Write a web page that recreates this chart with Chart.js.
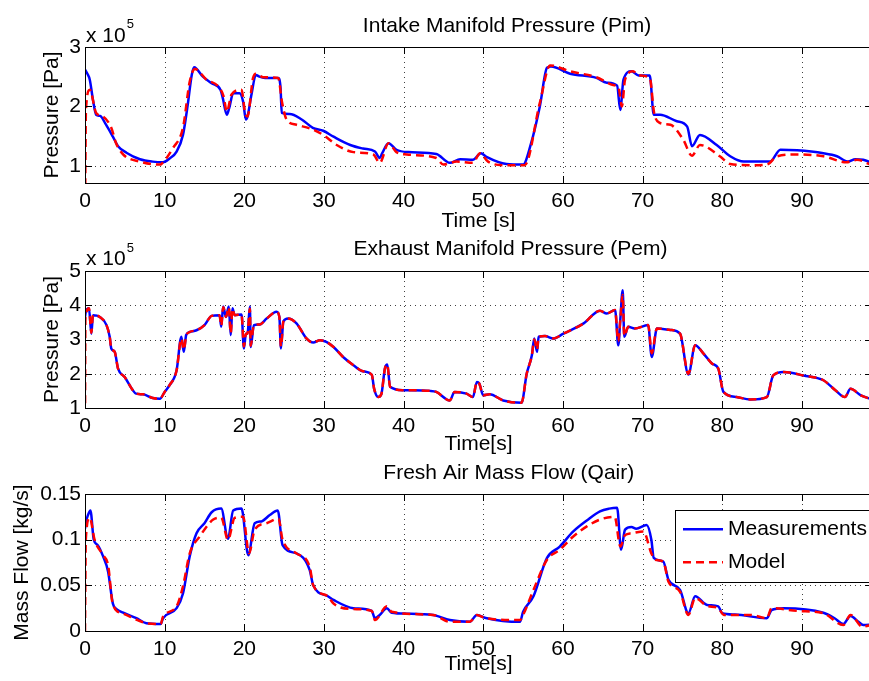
<!DOCTYPE html>
<html>
<head>
<meta charset="utf-8">
<title>Engine model validation</title>
<script src="https://cdn.jsdelivr.net/npm/chart.js@4.4.1/dist/chart.umd.min.js"></script>
<style>
    html, body { margin: 0; padding: 0; background: #fff; width: 869px; height: 681px; overflow: hidden; }
    canvas { position: absolute; left: 0; }
</style>
</head>
<body>
<canvas id="pimChart" width="880" height="234" style="top:0px"></canvas>
<canvas id="pemChart" width="880" height="223" style="top:234px"></canvas>
<canvas id="qairChart" width="880" height="224" style="top:457px"></canvas>
<script>
// Data: [time s, value]
// Intake manifold pressure, x 10^5 Pa
const pimMeasured = [
    [0, 2.62], [0.3, 2.55], [0.6, 2.45], [1.0, 2.11], [1.4, 1.86], [1.9, 1.84], [2.6, 1.70], [3.5, 1.49],
    [4.15, 1.33], [5.2, 1.22], [6.9, 1.11], [8.5, 1.07], [9.8, 1.06], [10.6, 1.12], [11.5, 1.24], [12.3, 1.52],
    [12.9, 2.03], [13.4, 2.53], [13.7, 2.66], [14.8, 2.50], [15.9, 2.39], [17.0, 2.28], [17.3, 2.14], [17.8, 1.86],
    [18.1, 1.97], [18.6, 2.22], [19.4, 2.22], [19.85, 2.08], [20.2, 1.78], [20.4, 1.83], [20.9, 2.20], [21.45, 2.53],
    [21.9, 2.50], [22.6, 2.48], [24.25, 2.48], [24.55, 2.31], [24.7, 1.89], [25.7, 1.87], [27.2, 1.78], [28.6, 1.64],
    [29.9, 1.59], [31.2, 1.49], [33.3, 1.35], [34.9, 1.29], [36.4, 1.24], [37.0, 1.13], [37.3, 1.21], [38.1, 1.38],
    [39.1, 1.27], [40.6, 1.23], [44.1, 1.20], [45.8, 1.05], [47.1, 1.11], [48.7, 1.10], [49.7, 1.21], [50.4, 1.15],
    [52.9, 1.03], [55.0, 1.02], [55.9, 1.33], [57.1, 2.0], [58.0, 2.65], [58.5, 2.67], [60.9, 2.55], [64.2, 2.48],
    [65.5, 2.40], [66.8, 2.35], [67.2, 1.94], [67.6, 2.45], [68.6, 2.59], [69.5, 2.52], [70.9, 2.52], [71.4, 1.86],
    [72.2, 1.86], [74.3, 1.75], [75.6, 1.66], [76.2, 1.33], [77.2, 1.52], [79.3, 1.35], [81.0, 1.16], [82.7, 1.07],
    [86.0, 1.07], [87.3, 1.27], [89.4, 1.26], [92.7, 1.21], [94.4, 1.16], [95.8, 1.07], [96.7, 1.11], [97.7, 1.10],
    [98.8, 1.05]
];
const pimModel = [
    [0, 0], [0.12, 1.95], [0.6, 2.28], [1.4, 1.89], [2.26, 1.83], [3.3, 1.64], [3.9, 1.38], [4.8, 1.19],
    [6.9, 1.07], [9.4, 1.02], [9.6, 1.03], [11.05, 1.30], [12.3, 1.64], [13.15, 2.42], [13.8, 2.63], [15.25, 2.45],
    [16.7, 2.34], [17.4, 2.17], [17.8, 1.91], [18.4, 2.20], [19.65, 2.28], [20.1, 1.89], [20.4, 1.83], [21.1, 2.48],
    [21.5, 2.55], [22.4, 2.49], [24.25, 2.48], [24.75, 2.06], [25.3, 1.78], [26.55, 1.69], [28.6, 1.61], [29.9, 1.52],
    [31.6, 1.35], [33.7, 1.23], [36.2, 1.19], [37.0, 1.05], [38.1, 1.38], [39.1, 1.23], [40.4, 1.19], [44.1, 1.13],
    [45.0, 1.02], [46.65, 1.07], [48.7, 1.05], [49.6, 1.21], [50.6, 1.07], [52.5, 1.01], [55.2, 1.01], [57.1, 2.06],
    [58.4, 2.69], [60.9, 2.59], [64.2, 2.49], [66.3, 2.36], [67.0, 2.31], [67.4, 2.0], [67.8, 2.45], [68.8, 2.59],
    [69.5, 2.52], [70.9, 2.48], [71.45, 1.89], [72.2, 1.72], [73.5, 1.69], [75.1, 1.44], [76.2, 1.17], [77.2, 1.35],
    [79.7, 1.16], [81.0, 1.03], [83.5, 1.01], [85.6, 1.02], [86.9, 1.16], [89.4, 1.19], [92.7, 1.16], [95.6, 1.06],
    [96.9, 1.10], [98.8, 1.01]
];

// Exhaust manifold pressure, x 10^5 Pa
const pemMeasured = [
    [0, 3.66], [0.1, 3.81], [0.5, 3.91], [0.8, 3.17], [1.0, 3.71], [1.85, 3.66], [2.7, 3.42], [3.1, 3.08],
    [3.3, 2.74], [3.73, 2.64], [4.15, 2.15], [5.0, 1.90], [6.0, 1.52], [6.4, 1.42], [7.3, 1.40], [8.5, 1.29],
    [9.4, 1.27], [10.0, 1.47], [10.6, 1.66], [11.5, 2.10], [12.1, 3.08], [12.4, 2.64], [12.7, 3.13], [13.15, 3.22],
    [14.0, 3.27], [15.0, 3.42], [15.9, 3.69], [16.9, 3.71], [17.1, 3.37], [17.35, 3.96], [17.7, 3.66], [18.05, 3.96],
    [18.3, 3.13], [18.5, 3.91], [18.8, 3.71], [19.65, 3.73], [19.95, 2.74], [20.2, 3.17], [20.4, 3.17], [20.7, 3.96],
    [20.8, 2.78], [21.2, 3.42], [21.95, 3.44], [22.8, 3.61], [24.05, 3.81], [24.4, 3.66], [24.6, 2.74], [24.9, 3.52],
    [25.5, 3.61], [26.55, 3.47], [27.8, 3.03], [28.65, 2.91], [29.5, 2.98], [30.3, 2.93], [31.2, 2.78], [32.4, 2.49],
    [33.7, 2.25], [34.9, 2.07], [36.0, 1.97], [36.3, 1.56], [36.8, 1.32], [37.2, 1.40], [37.65, 2.15], [37.95, 2.27],
    [38.3, 1.62], [39.95, 1.52], [43.3, 1.50], [44.1, 1.47], [45.8, 1.22], [46.4, 1.47], [47.9, 1.42], [48.7, 1.32],
    [49.2, 1.76], [49.5, 1.71], [50.0, 1.37], [50.8, 1.40], [52.5, 1.22], [54.8, 1.15], [55.45, 2.00], [56.1, 2.54],
    [56.4, 3.03], [56.75, 2.64], [56.95, 3.08], [57.75, 3.10], [58.8, 3.03], [60.05, 3.17], [62.6, 3.47], [64.65, 3.84],
    [65.5, 3.76], [66.55, 3.86], [66.95, 2.83], [67.2, 3.57], [67.5, 4.44], [67.7, 3.08], [68.2, 3.37], [69.0, 3.32],
    [70.7, 3.42], [71.15, 2.49], [71.8, 3.32], [73.5, 3.28], [74.7, 3.17], [75.75, 1.98], [76.6, 2.83], [77.65, 2.59],
    [78.7, 2.30], [79.5, 2.15], [80.15, 1.47], [81.8, 1.32], [83.5, 1.25], [85.6, 1.32], [86.4, 1.95], [87.7, 2.05],
    [90.2, 1.95], [92.7, 1.81], [94.2, 1.52], [95.4, 1.32], [96.1, 1.56], [97.4, 1.37], [98.8, 1.25]
];
const pemModel = [
    [0, 0], [0.05, 3.60], [0.5, 3.91], [0.8, 3.20], [1.0, 3.71], [1.85, 3.66], [2.7, 3.42], [3.1, 3.08],
    [3.3, 2.74], [3.73, 2.64], [4.15, 2.15], [5.0, 1.90], [6.0, 1.52], [6.4, 1.42], [7.3, 1.40], [8.5, 1.29],
    [9.4, 1.27], [10.0, 1.47], [10.6, 1.66], [11.5, 2.10], [12.1, 3.03], [12.4, 2.70], [12.7, 3.10], [13.15, 3.22],
    [14.0, 3.27], [15.0, 3.42], [15.9, 3.69], [16.9, 3.71], [17.1, 3.40], [17.35, 3.94], [17.7, 3.66], [18.05, 3.94],
    [18.3, 3.18], [18.5, 3.89], [18.8, 3.71], [19.65, 3.73], [19.95, 2.80], [20.2, 3.17], [20.4, 3.17], [20.7, 3.90],
    [20.8, 2.82], [21.2, 3.42], [21.95, 3.44], [22.8, 3.61], [24.05, 3.81], [24.4, 3.66], [24.6, 2.80], [24.9, 3.52],
    [25.5, 3.61], [26.55, 3.47], [27.8, 3.03], [28.65, 2.91], [29.5, 2.98], [30.3, 2.93], [31.2, 2.78], [32.4, 2.49],
    [33.7, 2.25], [34.9, 2.07], [36.0, 1.97], [36.3, 1.56], [36.8, 1.32], [37.2, 1.40], [37.65, 2.15], [37.95, 2.27],
    [38.3, 1.62], [39.95, 1.52], [43.3, 1.50], [44.1, 1.47], [45.8, 1.22], [46.4, 1.47], [47.9, 1.42], [48.7, 1.32],
    [49.2, 1.76], [49.5, 1.71], [50.0, 1.37], [50.8, 1.40], [52.5, 1.22], [54.8, 1.15], [55.45, 2.00], [56.1, 2.54],
    [56.4, 3.00], [56.75, 2.70], [56.95, 3.08], [57.75, 3.10], [58.8, 3.03], [60.05, 3.17], [62.6, 3.47], [64.65, 3.84],
    [65.5, 3.76], [66.55, 3.86], [66.95, 2.95], [67.2, 3.57], [67.5, 4.30], [67.7, 3.10], [68.2, 3.37], [69.0, 3.32],
    [70.7, 3.42], [71.15, 2.60], [71.8, 3.32], [73.5, 3.28], [74.7, 3.17], [75.75, 2.00], [76.6, 2.83], [77.65, 2.59],
    [78.7, 2.30], [79.5, 2.15], [80.15, 1.47], [81.8, 1.32], [83.5, 1.25], [85.6, 1.32], [86.4, 1.95], [87.7, 2.05],
    [90.2, 1.95], [92.7, 1.81], [94.2, 1.52], [95.4, 1.32], [96.1, 1.56], [97.4, 1.37], [98.8, 1.25]
];

// Fresh air mass flow, kg/s
const qairMeasured = [
    [0, 0.112], [0.09, 0.118], [0.38, 0.127], [0.68, 0.132], [1.1, 0.100], [1.6, 0.094], [2.26, 0.082], [2.9, 0.065],
    [3.5, 0.030], [3.95, 0.024], [4.8, 0.020], [6.45, 0.014], [7.7, 0.0085], [9.5, 0.0077], [9.8, 0.014], [11.5, 0.025],
    [12.3, 0.041], [13.15, 0.082], [14.0, 0.107], [15.0, 0.118], [15.9, 0.130], [17.1, 0.134], [17.95, 0.101], [18.6, 0.132],
    [19.65, 0.134], [20.5, 0.083], [21.3, 0.118], [22.15, 0.120], [23.2, 0.127], [24.2, 0.132], [24.8, 0.094], [26.55, 0.085],
    [28.2, 0.067], [28.65, 0.050], [30.5, 0.038], [31.2, 0.034], [33.7, 0.025], [36.0, 0.022], [36.4, 0.014], [37.0, 0.0176],
    [37.9, 0.025], [38.5, 0.020], [40.4, 0.019], [43.7, 0.0176], [45.8, 0.012], [48.3, 0.010], [49.2, 0.0176], [50.3, 0.0143],
    [54.6, 0.010], [55.0, 0.021], [56.3, 0.038], [58.0, 0.080], [59.6, 0.0925], [61.3, 0.109], [63.0, 0.121], [64.65, 0.131],
    [65.8, 0.134], [66.8, 0.135], [67.3, 0.089], [67.8, 0.111], [68.6, 0.114], [69.2, 0.112], [70.5, 0.116], [71.1, 0.100],
    [71.4, 0.080], [72.6, 0.076], [73.25, 0.056], [74.7, 0.045], [75.75, 0.0194], [76.6, 0.038], [78.1, 0.0285], [79.5, 0.027],
    [80.0, 0.0194], [81.6, 0.018], [85.6, 0.014], [86.2, 0.023], [87.7, 0.025], [92.7, 0.020], [94.1, 0.014], [95.2, 0.0077],
    [96.1, 0.0165], [97.1, 0.010], [97.7, 0.0066], [98.8, 0.007]
];
const qairModel = [
    [0, 0], [0.1, 0.100], [0.6, 0.124], [1.2, 0.100], [2.26, 0.083], [2.9, 0.072], [3.5, 0.029], [4.8, 0.019],
    [6.6, 0.012], [7.7, 0.0085], [9.5, 0.0077], [9.8, 0.0157], [11.5, 0.027], [12.3, 0.049], [13.15, 0.085], [14.4, 0.1035],
    [16.1, 0.122], [17.1, 0.124], [17.95, 0.100], [18.8, 0.124], [19.85, 0.125], [20.6, 0.085], [21.3, 0.111], [22.8, 0.118],
    [24.3, 0.123], [24.8, 0.100], [26.55, 0.085], [28.2, 0.0706], [28.65, 0.050], [30.5, 0.038], [31.2, 0.030], [33.7, 0.024],
    [36.0, 0.022], [36.4, 0.012], [37.9, 0.027], [38.5, 0.021], [43.7, 0.0176], [45.8, 0.010], [48.3, 0.010], [49.2, 0.0176],
    [50.3, 0.014], [54.6, 0.012], [55.0, 0.0176], [56.3, 0.045], [58.0, 0.078], [59.6, 0.089], [61.3, 0.1035], [63.0, 0.1145],
    [64.65, 0.122], [66.5, 0.125], [67.2, 0.0925], [67.8, 0.105], [68.6, 0.107], [70.1, 0.109], [71.1, 0.085], [71.6, 0.078],
    [72.6, 0.076], [73.25, 0.054], [74.7, 0.043], [75.75, 0.0176], [76.6, 0.036], [78.1, 0.0275], [79.5, 0.025], [80.2, 0.0176],
    [83.5, 0.0176], [85.6, 0.014], [86.2, 0.025], [89.4, 0.022], [92.7, 0.0194], [95.2, 0.0066], [96.1, 0.0176], [97.6, 0.0047],
    [98.8, 0.007]
];

// Tick values
const timeTicks = [0, 10, 20, 30, 40, 50, 60, 70, 80, 90];
const pimTicks = [1, 2, 3];
const pemTicks = [1, 2, 3, 4, 5];
const qairTicks = [0, 0.05, 0.1, 0.15];
const seriesLabels = ['Measurements', 'Model'];

// Styling
const FONT_FAMILY = '"Liberation Sans", Arial, Helvetica, sans-serif';
const BLUE = '#0000ff';
const RED = '#ff0000';
const TIME_MAX = 98.8;
const AXIS_LEFT = 85;

const toXY = pts => pts.map(p => ({ x: p[0], y: p[1] }));
const useTicks = list => scale => { scale.ticks = list.map(v => ({ value: v })); };

// MATLAB-like axes: dotted grid, inward ticks, box, title, exponent, legend
const matlabAxes = {
    id: 'matlabAxes',
    beforeDatasetsDraw(chart) {
        const { ctx, chartArea: a, scales: { x, y } } = chart;
        ctx.save();
        ctx.strokeStyle = 'rgba(0,0,0,0.75)';
        ctx.lineWidth = 1;
        ctx.setLineDash([1, 4]);
        x.ticks.forEach(t => {
            const px = Math.round(x.getPixelForValue(t.value)) + 0.5;
            if (px <= a.left + 1 || px >= a.right - 1) return;
            ctx.beginPath(); ctx.moveTo(px, a.top); ctx.lineTo(px, a.bottom); ctx.stroke();
        });
        y.ticks.forEach(t => {
            const py = Math.round(y.getPixelForValue(t.value)) + 0.5;
            if (py <= a.top + 1 || py >= a.bottom - 1) return;
            ctx.beginPath(); ctx.moveTo(a.left, py); ctx.lineTo(a.right, py); ctx.stroke();
        });
        ctx.restore();
    },
    afterDraw(chart, args, opts) {
        const { ctx, chartArea: a, scales: { x, y } } = chart;
        ctx.save();
        ctx.strokeStyle = '#000';
        ctx.lineWidth = 1;
        ctx.setLineDash([]);

        // Inward ticks on all four sides
        const len = 7;
        x.ticks.forEach(t => {
            const px = Math.round(x.getPixelForValue(t.value)) + 0.5;
            ctx.beginPath();
            ctx.moveTo(px, a.bottom); ctx.lineTo(px, a.bottom - len);
            ctx.moveTo(px, a.top); ctx.lineTo(px, a.top + len);
            ctx.stroke();
        });
        y.ticks.forEach(t => {
            const py = Math.round(y.getPixelForValue(t.value)) + 0.5;
            ctx.beginPath();
            ctx.moveTo(a.left, py); ctx.lineTo(a.left + len, py);
            ctx.moveTo(a.right, py); ctx.lineTo(a.right - len, py);
            ctx.stroke();
        });

        // Box
        ctx.strokeRect(Math.round(a.left) + 0.5, Math.round(a.top) + 0.5,
            Math.round(a.right - a.left), Math.round(a.bottom - a.top));

        // Title
        ctx.fillStyle = '#000';
        ctx.font = '21px ' + FONT_FAMILY;
        ctx.textAlign = 'center';
        ctx.textBaseline = 'alphabetic';
        ctx.fillText(opts.title, opts.titleX, opts.titleBaseline);

        // Exponent label
        if (opts.exponent) {
            const e = opts.exponent;
            ctx.textAlign = 'left';
            ctx.fillText('x 10', e.x, e.baseline);
            const w = ctx.measureText('x 10').width;
            ctx.font = '13px ' + FONT_FAMILY;
            ctx.fillText('5', e.x + w + 1, e.supBaseline);
        }

        // Legend
        if (opts.legend) {
            const lg = opts.legend;
            ctx.fillStyle = '#fff';
            ctx.fillRect(lg.left, lg.top, chart.width - lg.left + 10, lg.height);
            ctx.strokeStyle = '#000';
            ctx.strokeRect(lg.left + 0.5, lg.top + 0.5, chart.width, lg.height);
            chart.data.datasets.forEach((ds, i) => {
                const ly = lg.rows[i];
                ctx.strokeStyle = ds.borderColor;
                ctx.lineWidth = ds.borderWidth;
                ctx.setLineDash(ds.borderDash || []);
                ctx.beginPath(); ctx.moveTo(lg.lineX0, ly); ctx.lineTo(lg.lineX1, ly); ctx.stroke();
                ctx.setLineDash([]);
                ctx.fillStyle = '#000';
                ctx.font = '21px ' + FONT_FAMILY;
                ctx.textAlign = 'left';
                ctx.textBaseline = 'middle';
                ctx.fillText(ds.label, lg.textX, ly);
            });
        }
        ctx.restore();
    }
};

// Build one subplot
function makePanel(canvasId, cfg) {
    const font = { family: FONT_FAMILY, size: 21 };
    return new Chart(document.getElementById(canvasId), {
        type: 'line',
        data: {
            datasets: [{
                label: seriesLabels[0],
                data: toXY(cfg.measured),
                borderColor: BLUE,
                borderWidth: 2.5,
                order: 2
            }, {
                label: seriesLabels[1],
                data: toXY(cfg.model),
                borderColor: RED,
                borderWidth: 2.5,
                borderDash: [8, 5],
                order: 1
            }]
        },
        options: {
            responsive: false,
            animation: false,
            layout: { padding: { top: cfg.padTop, right: 8, left: 0, bottom: 0 } },
            elements: {
                point: { radius: 0 },
                line: { cubicInterpolationMode: 'monotone', borderJoinStyle: 'round', fill: false }
            },
            plugins: {
                legend: { display: false },
                tooltip: { enabled: false },
                matlabAxes: cfg.axes
            },
            scales: {
                x: {
                    type: 'linear',
                    min: 0,
                    max: TIME_MAX,
                    afterBuildTicks: useTicks(timeTicks),
                    afterFit: s => { s.height = cfg.xAxisHeight; },
                    grid: { display: false, drawTicks: false },
                    border: { display: false },
                    ticks: { color: '#000', font, padding: 6, maxRotation: 0, autoSkip: false },
                    title: {
                        display: true, text: cfg.xLabel, color: '#000', font,
                        padding: { top: 0, bottom: cfg.xTitlePad }
                    }
                },
                y: {
                    type: 'linear',
                    min: cfg.yMin,
                    max: cfg.yMax,
                    afterBuildTicks: useTicks(cfg.yTicks),
                    afterFit: s => { s.width = AXIS_LEFT; },
                    grid: { display: false, drawTicks: false },
                    border: { display: false },
                    ticks: { color: '#000', font, padding: 4, callback: v => String(v) },
                    title: {
                        display: true, text: cfg.yLabel, color: '#000', font,
                        padding: { top: cfg.yTitlePad, bottom: 0 }
                    }
                }
            }
        },
        plugins: [matlabAxes]
    });
}

makePanel('pimChart', {
    measured: pimMeasured, model: pimModel,
    yMin: 0.71, yMax: 3, yTicks: pimTicks,
    padTop: 47, xAxisHeight: 51, xTitlePad: 0, yTitlePad: 40,
    xLabel: 'Time [s]', yLabel: 'Pressure [Pa]',
    axes: {
        title: 'Intake Manifold Pressure (Pim)', titleX: 507, titleBaseline: 32,
        exponent: { x: 86, baseline: 41.7, supBaseline: 28.3 }
    }
});

makePanel('pemChart', {
    measured: pemMeasured, model: pemModel,
    yMin: 1, yMax: 5, yTicks: pemTicks,
    padTop: 37, xAxisHeight: 49, xTitlePad: 0, yTitlePad: 40,
    xLabel: 'Time[s]', yLabel: 'Pressure [Pa]',
    axes: {
        title: 'Exhaust Manifold Pressure (Pem)', titleX: 510.5, titleBaseline: 21,
        exponent: { x: 86, baseline: 31, supBaseline: 17.7 }
    }
});

makePanel('qairChart', {
    measured: qairMeasured, model: qairModel,
    yMin: 0, yMax: 0.15, yTicks: qairTicks,
    padTop: 37, xAxisHeight: 50, xTitlePad: 4, yTitlePad: 10,
    xLabel: 'Time[s]', yLabel: 'Mass Flow [kg/s]',
    axes: {
        title: 'Fresh Air Mass Flow (Qair)', titleX: 508.8, titleBaseline: 22,
        legend: { left: 675, top: 53, height: 72, lineX0: 683, lineX1: 723, textX: 728, rows: [72.3, 105.3] }
    }
});
</script>
</body>
</html>
